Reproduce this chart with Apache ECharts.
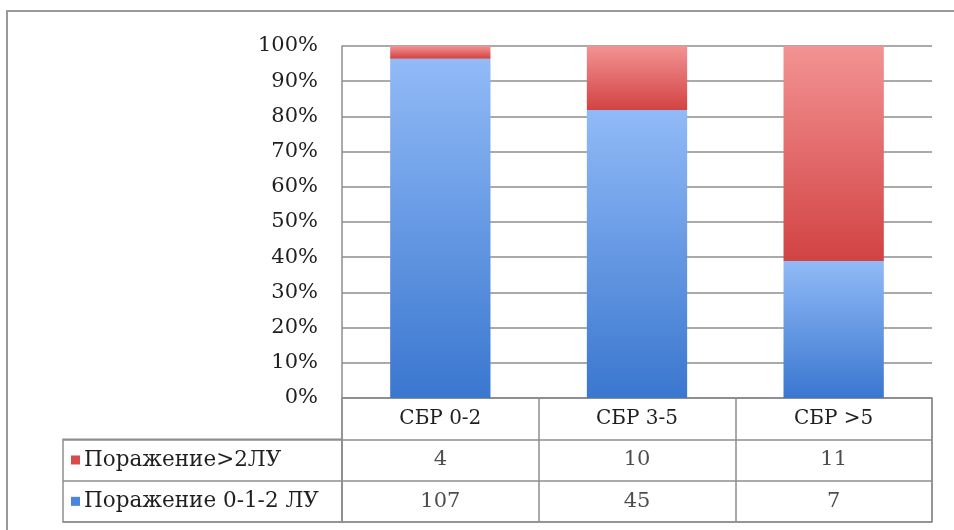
<!DOCTYPE html>
<html>
<head>
<meta charset="utf-8">
<script src="https://cdn.jsdelivr.net/npm/echarts@6/dist/echarts.min.js"></script>
<style>
  html, body { margin: 0; padding: 0; background: #fff; }
  #chart { width: 954px; height: 530px; }
</style>
</head>
<body>
<div id="chart"></div>
<script>
// Stage groups and lymph-node counts per group
const categories = ['СБР 0-2', 'СБР 3-5', 'СБР >5'];
const seriesNames = ['Поражение>2ЛУ', 'Поражение 0-1-2 ЛУ'];
const over2LN = [4, 10, 11];
const upTo2LN = [107, 45, 7];
const yTickValues = [0, 10, 20, 30, 40, 50, 60, 70, 80, 90, 100];

// Share of each group, in percent
const totals = categories.map((_, i) => over2LN[i] + upTo2LN[i]);
const over2Pct = over2LN.map((v, i) => v / totals[i] * 100);
const upTo2Pct = upTo2LN.map((v, i) => v / totals[i] * 100);

// Rows of the data table under the plot: row 0 holds the category header
const tableRows = ['header', seriesNames[0], seriesNames[1]];
const tableCells = [];
[over2LN, upTo2LN].forEach((row, r) => {
  row.forEach((v, c) => tableCells.push([c, r + 1, String(v)]));
});

const FONT = 'DejaVu Serif';
const TEXT = '#1f1f1f';
const LINE = '#8e8e8e';

const grad = (top, bottom) => new echarts.graphic.LinearGradient(0, 0, 0, 1, [
  { offset: 0, color: top }, { offset: 1, color: bottom }
]);
const RED = grad('#f39393', '#d24243');
const BLUE = grad('#91baf7', '#3a77cf');

const chart = echarts.init(document.getElementById('chart'), null, { renderer: 'canvas' });

chart.setOption({
  animation: false,
  backgroundColor: '#ffffff',
  textStyle: { fontFamily: FONT, color: TEXT },
  graphic: [{
    type: 'rect',
    shape: { x: 7, y: 11, width: 1000, height: 600 },
    style: { fill: 'none', stroke: '#9a9a9a', lineWidth: 2 },
    silent: true
  }],
  grid: [
    { left: 342, right: 22, top: 46, bottom: 132 },
    { left: 342, right: 22, top: 398, height: 124, show: true, borderColor: LINE, borderWidth: 1.5 },
    { left: 63, width: 279, top: 439.3, height: 82.7, show: true, borderColor: LINE, borderWidth: 1.5 }
  ],
  xAxis: [
    {
      gridIndex: 0, type: 'category', data: categories,
      axisLine: { show: false }, axisTick: { show: false },
      axisLabel: { fontFamily: FONT, fontSize: 20, color: TEXT, margin: 21, verticalAlign: 'middle' }
    },
    {
      gridIndex: 1, type: 'category', data: categories,
      axisLine: { show: false }, axisTick: { show: false }, axisLabel: { show: false },
      splitLine: { show: true, lineStyle: { color: LINE, width: 1.5 } }
    },
    {
      gridIndex: 2, type: 'value', show: false
    }
  ],
  yAxis: [
    {
      gridIndex: 0, type: 'value', min: 0, max: 100, interval: 10,
      axisLine: { show: true, lineStyle: { color: LINE, width: 1.5 } },
      axisTick: { show: false },
      splitLine: { show: true, lineStyle: { color: LINE, width: 1.5 } },
      axisLabel: {
        fontFamily: FONT, fontSize: 21, color: TEXT, margin: 24,
        formatter: v => yTickValues.includes(v) ? v + '%' : ''
      }
    },
    {
      gridIndex: 1, type: 'category', data: tableRows, inverse: true,
      axisLine: { show: false }, axisTick: { show: false }, axisLabel: { show: false },
      splitLine: { show: true, lineStyle: { color: LINE, width: 1.5 } }
    },
    {
      gridIndex: 2, type: 'category', data: seriesNames, inverse: true,
      axisLine: { show: false }, axisTick: { show: false },
      splitLine: { show: true, lineStyle: { color: LINE, width: 1.5 } },
      axisLabel: {
        inside: true, margin: 8, align: 'left',
        formatter: (v, i) => (i === 0 ? '{r| }' : '{b| }') + '{t|' + v + '}',
        rich: {
          r: { backgroundColor: '#d94a4b', width: 9, height: 9 },
          b: { backgroundColor: '#4a86e0', width: 9, height: 9 },
          t: { fontFamily: FONT, fontSize: 21.5, color: TEXT, padding: [0, 0, 0, 4] }
        }
      }
    }
  ],
  series: [
    {
      name: seriesNames[1], type: 'bar', stack: 'share',
      xAxisIndex: 0, yAxisIndex: 0,
      data: upTo2Pct, barCategoryGap: '49%',
      itemStyle: { color: BLUE }
    },
    {
      name: seriesNames[0], type: 'bar', stack: 'share',
      xAxisIndex: 0, yAxisIndex: 0,
      data: over2Pct, barCategoryGap: '49%',
      itemStyle: { color: RED }
    },
    {
      type: 'scatter', xAxisIndex: 1, yAxisIndex: 1,
      symbolSize: 0, silent: true,
      data: tableCells,
      label: {
        show: true, position: 'inside',
        fontFamily: FONT, fontSize: 21, color: TEXT,
        formatter: p => p.value[2]
      }
    }
  ]
});
</script>
</body>
</html>
